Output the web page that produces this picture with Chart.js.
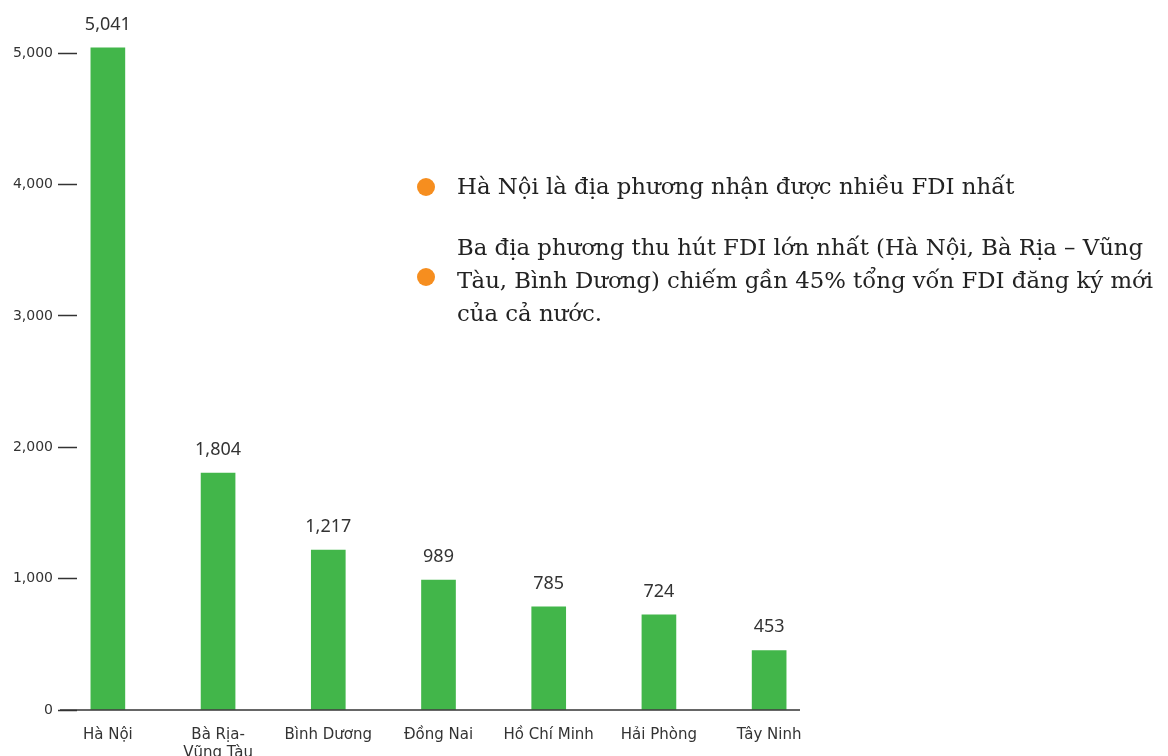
<!DOCTYPE html>
<html lang="vi">
<head>
<meta charset="utf-8">
<script src="https://cdn.jsdelivr.net/npm/chart.js@4"></script>
<style>
  html, body { margin: 0; padding: 0; background: #fff; }
  #wrap { position: relative; width: 1168px; height: 756px; }
  #chart { position: absolute; left: 0; top: 0; }
  .note { position: absolute; left: 457px; font-family: "DejaVu Serif", serif; font-size: 22.8px; line-height: 33px; color: #222; white-space: nowrap; }
  .dot { position: absolute; width: 18px; height: 18px; border-radius: 50%; background: #f68e1f; }
</style>
</head>
<body>
<div id="wrap">
  <canvas id="chart" width="1168" height="756"></canvas>
  <span class="dot" style="left:417px; top:178px"></span>
  <div class="note" style="top:170px">Hà Nội là địa phương nhận được nhiều FDI nhất</div>
  <span class="dot" style="left:417px; top:268px"></span>
  <div class="note" style="top:231px">Ba địa phương thu hút FDI lớn nhất (Hà Nội, Bà Rịa – Vũng<br>Tàu, Bình Dương) chiếm gần 45% tổng vốn FDI đăng ký mới<br>của cả nước.</div>
</div>
<script>
  /* ── data ── */
  const provinces = ["Hà Nội", ["Bà Rịa-", "Vũng Tàu"], "Bình Dương", "Đồng Nai", "Hồ Chí Minh", "Hải Phòng", "Tây Ninh"];
  const fdiValues = [5041, 1804, 1217, 989, 785, 724, 453];
  const yTicks    = [0, 1000, 2000, 3000, 4000, 5000];

  const TEXT  = "#333";
  const GREEN = "#42b64a";

  /* ── value labels above bars ── */
  const valueLabels = {
    id: "valueLabels",
    afterDatasetsDraw(chart) {
      const { ctx } = chart;
      const meta = chart.getDatasetMeta(0);
      ctx.save();
      ctx.font = '18px "Noto Sans", sans-serif';
      ctx.fillStyle = TEXT;
      ctx.textAlign = "center";
      ctx.textBaseline = "alphabetic";
      meta.data.forEach((bar, i) => {
        ctx.fillText(fdiValues[i].toLocaleString("en-US"), bar.x, bar.y - 18);
      });
      ctx.restore();
    },
  };

  /* ── baseline stretched under y ticks ── */
  const baseline = {
    id: "baseline",
    afterDraw(chart) {
      const { ctx, chartArea } = chart;
      const y0 = chart.scales.y.getPixelForValue(0);
      ctx.save();
      ctx.strokeStyle = TEXT;
      ctx.lineWidth = 1.5;
      ctx.beginPath();
      ctx.moveTo(chartArea.left - 17, y0);
      ctx.lineTo(chartArea.right, y0);
      ctx.stroke();
      ctx.restore();
    },
  };

  new Chart(document.getElementById("chart"), {
    type: "bar",
    data: {
      datasets: [{
        data: fdiValues.map((v, i) => ({ x: i, y: v })),
        backgroundColor: GREEN,
        barThickness: 34,
      }],
    },
    options: {
      responsive: false,
      animation: false,
      layout: { padding: { left: 0, right: 368, top: 40, bottom: 0 } },
      plugins: { legend: { display: false }, tooltip: { enabled: false } },
      scales: {
        x: {
          type: "linear",
          offset: false,
          min: -0.28,
          max: 6.28,
          afterBuildTicks: (s) => { s.ticks = provinces.map((_, i) => ({ value: i })); },
          afterFit: (s) => { s.height = 46; },
          grid: { display: false, offset: false },
          border: { display: false },
          ticks: {
            callback: (v) => provinces[v],
            color: TEXT,
            font: { family: "DejaVu Sans", size: 15 },
            padding: 8,
            maxRotation: 0,
            autoSkip: false,
          },
        },
        y: {
          min: 0,
          max: 5100,
          afterBuildTicks: (s) => { s.ticks = yTicks.map((v) => ({ value: v })); },
          afterFit: (s) => { s.width = 77; },
          grid: { drawOnChartArea: false, drawTicks: true, tickLength: 19, tickColor: TEXT, tickWidth: 1.5 },
          border: { display: false },
          ticks: {
            callback: (v) => v.toLocaleString("en-US"),
            color: TEXT,
            font: { family: "DejaVu Sans", size: 14 },
            padding: 5,
          },
        },
      },
    },
    plugins: [valueLabels, baseline],
  });
</script>
</body>
</html>
